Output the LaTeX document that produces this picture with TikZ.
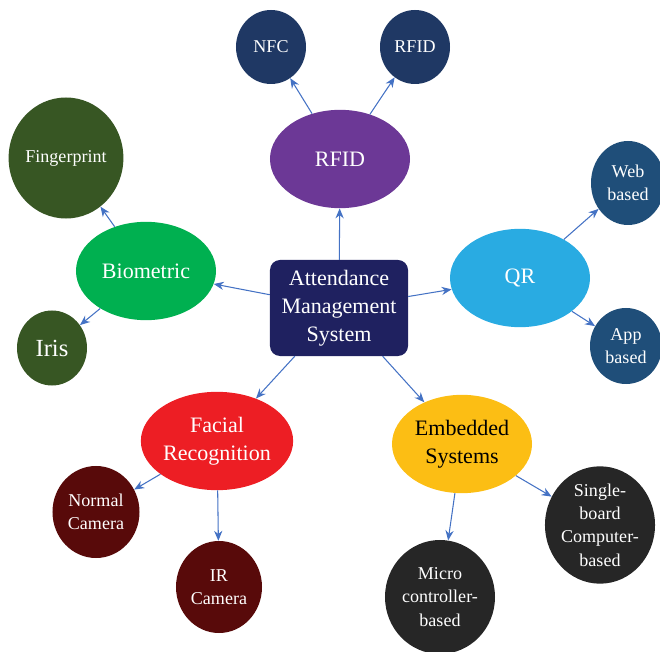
\documentclass[tikz,border=0pt]{standalone}
\usepackage{fontspec}
\setmainfont{Liberation Serif}
\newfontfamily\timesfont{Liberation Serif}
\usetikzlibrary{shapes.geometric,arrows.meta}
\definecolor{boxnavy}{RGB}{31,33,96}
\definecolor{rfidpurple}{RGB}{108,56,150}
\definecolor{tagnavy}{RGB}{31,56,100}
\definecolor{bioleaf}{RGB}{55,86,35}
\definecolor{biogreen}{RGB}{0,176,80}
\definecolor{qrblue}{RGB}{41,171,226}
\definecolor{qrleaf}{RGB}{31,78,121}
\definecolor{facered}{RGB}{237,30,36}
\definecolor{camred}{RGB}{88,10,10}
\definecolor{embyellow}{RGB}{252,190,20}
\definecolor{embleaf}{RGB}{38,38,38}
\definecolor{linkblue}{RGB}{68,114,196}
\begin{document}
\begin{tikzpicture}[x=0.03cm,y=-0.03cm,
  hub/.style={ellipse,inner sep=0pt,minimum width=4.2cm,minimum height=2.95cm,
    text=white,align=center,font=\timesfont\fontsize{18.8}{24}\selectfont},
  leaf/.style={ellipse,inner sep=0pt,text=white,align=center,
    font=\timesfont\fontsize{15.4}{20}\selectfont},
  link/.style={draw=linkblue,line width=0.9pt,-{Stealth[length=8.5pt,width=7pt]}}]
\useasboundingbox (0,0) rectangle (660,652);
% Central box
\node[fill=boxnavy,rounded corners=0.3cm,minimum width=4.14cm,minimum height=2.88cm,
  text=white,align=center,font=\timesfont\fontsize{18.8}{24}\selectfont] (ams) at (339,308)
  {Attendance\\Management\\System};
% Main branches
\node[hub,fill=rfidpurple] (rfid) at (340,159) {RFID};
\node[hub,fill=biogreen] (bio) at (146,271) {Biometric};
\node[hub,fill=qrblue] (qr) at (520,278) {QR};
\node[hub,fill=facered] (face) at (217,441) {Facial\\Recognition};
\node[hub,fill=embyellow,text=black] (emb) at (462,444) {Embedded\\Systems};
% Leaves of RFID
\node[leaf,fill=tagnavy,minimum width=2.1cm,minimum height=2.22cm] (nfc) at (271,47) {NFC};
\node[leaf,fill=tagnavy,minimum width=2.1cm,minimum height=2.22cm] (rfidtag) at (415,47) {RFID};
% Leaves of Biometric
\node[leaf,fill=bioleaf,minimum width=3.42cm,minimum height=3.63cm] (finger) at (66,158) {Fingerprint};
\node[leaf,fill=bioleaf,minimum width=2.1cm,minimum height=2.25cm,
  font=\timesfont\fontsize{21}{24}\selectfont] (iris) at (52,348) {Iris};
% Leaves of QR
\node[leaf,fill=qrleaf,minimum width=2.22cm,minimum height=2.52cm] (web) at (628,183) {Web\\based};
\node[leaf,fill=qrleaf,minimum width=2.16cm,minimum height=2.28cm] (app) at (626,346) {App\\based};
% Leaves of Facial Recognition
\node[leaf,fill=camred,minimum width=2.61cm,minimum height=2.76cm] (normcam) at (96,512) {Normal\\Camera};
\node[leaf,fill=camred,minimum width=2.58cm,minimum height=2.76cm] (ircam) at (219,587) {IR\\Camera};
% Leaves of Embedded Systems
\node[leaf,fill=embleaf,minimum width=3.3cm,minimum height=3.48cm] (sbc) at (600,525) {Single-\\board\\Computer-\\based};
\node[leaf,fill=embleaf,minimum width=3.3cm,minimum height=3.42cm] (mcu) at (440,597) {Micro\\controller-\\based};
% Arrows from the centre
\draw[link] (ams) -- (rfid);
\draw[link] (ams) -- (bio);
\draw[link] (ams) -- (qr);
\draw[link] (ams) -- (face);
\draw[link] (ams) -- (emb);
% Arrows to the leaves
\draw[link] (rfid) -- (nfc);
\draw[link] (rfid) -- (rfidtag);
\draw[link] (bio) -- (finger);
\draw[link] (bio) -- (iris);
\draw[link] (qr) -- (web);
\draw[link] (qr) -- (app);
\draw[link] (face) -- (normcam);
\draw[link] (face) -- (ircam);
\draw[link] (emb) -- (sbc);
\draw[link] (emb) -- (mcu);
\end{tikzpicture}
\end{document}
